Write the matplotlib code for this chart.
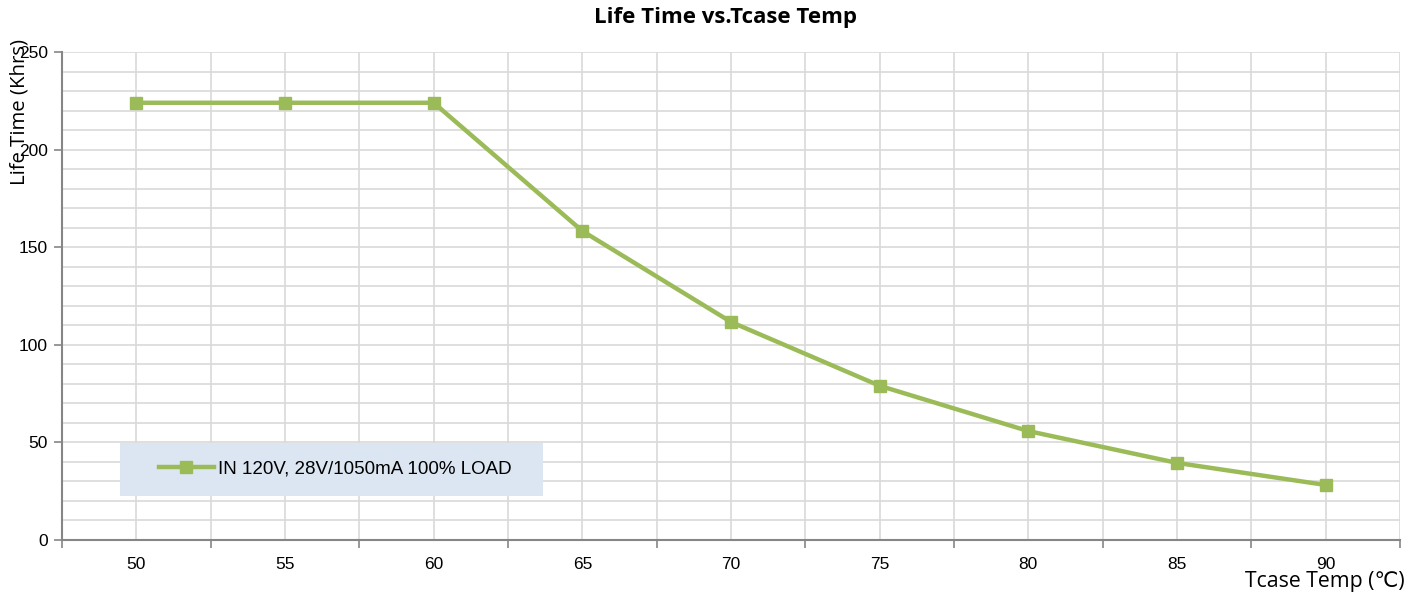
import numpy as np
import matplotlib.pyplot as plt
from matplotlib.patches import Rectangle

# data
temps = [50, 55, 60, 65, 70, 75, 80, 85, 90]
life_khrs = [224, 224, 224, 158.3, 111.7, 79, 55.8, 39.5, 28.2]
series_name = 'IN 120V, 28V/1050mA 100% LOAD'

plt.rcParams['font.family'] = ['Liberation Sans', 'DejaVu Sans']

fig = plt.figure(figsize=(14.21, 5.96), dpi=100)
ax = fig.add_axes([62 / 1421, 56 / 596, 1338 / 1421, 488 / 596])

green = '#9bbb59'
grid_c = '#d9d9d9'
axis_c = '#868686'

line, = ax.plot(temps, life_khrs, color=green, lw=3.2, marker='s', ms=8,
                zorder=5, label=series_name, solid_joinstyle='round')

ax.set_xlim(47.5, 92.5)
ax.set_ylim(0, 250)

# category axis: ticks at boundaries, labels in the middle
ax.set_xticks(np.arange(47.5, 93, 5))
ax.set_xticklabels([])
ax.set_xticks(temps, minor=True)
ax.set_xticklabels([str(t) for t in temps], minor=True)
ax.tick_params(axis='x', which='major', length=6, color=axis_c, width=1.2)
ax.tick_params(axis='x', which='minor', length=0, labelsize=12.5, pad=12)

ax.set_yticks(np.arange(0, 251, 50))
ax.set_yticks(np.arange(0, 251, 10), minor=True)
ax.tick_params(axis='y', which='major', length=6, color=axis_c, width=1.2,
               labelsize=12.5, pad=4)
ax.tick_params(axis='y', which='minor', length=0)

ax.grid(True, which='both', color=grid_c, lw=1.2)
ax.set_axisbelow(True)

for s in ['top', 'right']:
    ax.spines[s].set_visible(False)
for s in ['left', 'bottom']:
    ax.spines[s].set_color(axis_c)
    ax.spines[s].set_linewidth(1.5)

# legend box
ax.add_patch(Rectangle((0.0433, 0.090), 0.3162, 0.109, transform=ax.transAxes,
                       facecolor='#dce6f2', edgecolor='none', zorder=3))
ax.legend(handles=[line], loc='center left', bbox_to_anchor=(0.067, 0.145),
          frameon=False, fontsize=13.5, handlelength=2.9, handletextpad=0.25,
          borderaxespad=0)

fig.text(725 / 1421, 1 - 18 / 596, 'Life Time vs.Tcase Temp', ha='center',
         va='center', fontsize=16, fontweight='bold',
         family=['Open Sans', 'DejaVu Sans'])
fig.text(20 / 1421, 1 - 112 / 596, 'Life Time (Khrs)', rotation=90,
         ha='center', va='center', fontsize=14.7,
         family=['Open Sans', 'DejaVu Sans'])
fig.text(1405 / 1421, 1 - 581 / 596, 'Tcase Temp (℃)', ha='right',
         va='center', fontsize=15.3, family=['Open Sans', 'DejaVu Sans'])

fig.savefig('out.png', dpi=100, facecolor='white')
